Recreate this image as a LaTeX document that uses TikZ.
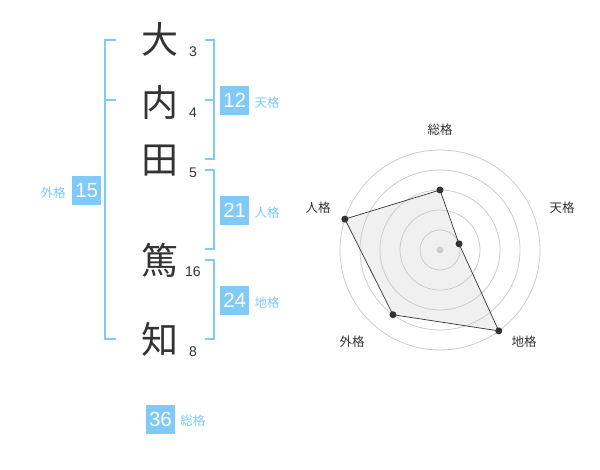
\documentclass[tikz,border=0pt]{standalone}
\usepackage{fontspec}
\setmainfont{Liberation Sans}
\newfontfamily\jpfont{Noto Sans CJK JP}

\definecolor{skyblue}{RGB}{128,202,250}
\definecolor{inkgray}{RGB}{51,51,51}

\tikzset{
  kanji/.style={font=\jpfont\fontsize{37}{37}\selectfont, text=inkgray, inner sep=0pt},
  strokes/.style={font=\fontsize{14}{14}\selectfont, text=inkgray, inner sep=0pt},
  bracket/.style={draw=skyblue, line width=1.6pt},
  scorebox/.style={fill=skyblue, text=white, minimum size=29pt, inner sep=0pt,
    font=\fontsize{20.5}{20.5}\selectfont},
  scorelabel/.style={text=skyblue, font=\jpfont\fontsize{12.5}{12.5}\selectfont, inner sep=0pt},
  ring/.style={draw=black!20, line width=0.8pt},
  web/.style={draw=inkgray, line width=0.7pt},
  dot/.style={circle, fill=inkgray, inner sep=0pt, minimum size=7pt},
  axislabel/.style={text=inkgray, font=\jpfont\fontsize{12.5}{12.5}\selectfont, inner sep=0pt},
}

\begin{document}
\begin{tikzpicture}[x=1pt, y=-1pt]
  \useasboundingbox (0,0) rectangle (600,470);

  % name and stroke counts
  \foreach \i/\k/\y/\n/\ny in {1/大/39/3/52, 2/内/102/4/113, 3/田/161/5/173,
                               4/篤/260/16/272, 5/知/339/8/352} {
    \node[kanji] (k-\i) at (160,\y) {\k};
    \node[strokes] (n-\i) at (193,\ny) {\n};
  }

  % brackets
  \draw[bracket] (116,40) -- (105,40) -- (105,339) -- (116,339);
  \draw[bracket] (105,100) -- (116,100);
  \draw[bracket] (205,40) -- (214,40) -- (214,159) -- (205,159);
  \draw[bracket] (214,100) -- (205,100);
  \draw[bracket] (205,170) -- (214,170) -- (214,249) -- (205,249);
  \draw[bracket] (205,260) -- (214,260) -- (214,339) -- (205,339);

  % scores
  \node[scorebox] (b-ten) at (234.7,100.3) {12};
  \node[scorelabel, anchor=west] (t-ten) at ([xshift=5pt, yshift=-2pt]b-ten.east) {天格};
  \node[scorebox] (b-jin) at (234.7,210.5) {21};
  \node[scorelabel, anchor=west] (t-jin) at ([xshift=5pt, yshift=-2pt]b-jin.east) {人格};
  \node[scorebox] (b-chi) at (234.7,300.3) {24};
  \node[scorelabel, anchor=west] (t-chi) at ([xshift=5pt, yshift=-2pt]b-chi.east) {地格};
  \node[scorebox] (b-gai) at (86.7,190.5) {15};
  \node[scorelabel, anchor=east] (t-gai) at ([xshift=-6pt, yshift=-2pt]b-gai.west) {外格};
  \node[scorebox] (b-sou) at (160.5,419) {36};
  \node[scorelabel, anchor=west] (t-sou) at ([xshift=5pt, yshift=-2pt]b-sou.east) {総格};

  % radar chart
  \begin{scope}[shift={(440,250)}, yscale=-1]
    \foreach \name/\ang/\val in {sou/90/60, ten/18/20, chi/-54/100, gai/-126/80, jin/162/100}
      \coordinate (\name) at (\ang:\val);

    \fill[black!6] (sou) -- (ten) -- (chi) -- (gai) -- (jin) -- cycle;
    \foreach \r in {20,40,...,100}
      \draw[ring] (0,0) circle (\r);
    \node[circle, fill=black!20, inner sep=0pt, minimum size=7pt] (hub) at (0,0) {};

    \draw[web] (sou) -- (ten) -- (chi) -- (gai) -- (jin) -- cycle;

    \foreach \name in {sou, ten, chi, gai, jin}
      \node[dot] (d-\name) at (\name) {};

    \node[axislabel] (a-sou) at (0,120) {総格};
    \node[axislabel] (a-ten) at (122,42) {天格};
    \node[axislabel] (a-chi) at (84,-92) {地格};
    \node[axislabel] (a-gai) at (-88,-92) {外格};
    \node[axislabel] (a-jin) at (-122,42) {人格};
  \end{scope}
\end{tikzpicture}
\end{document}
